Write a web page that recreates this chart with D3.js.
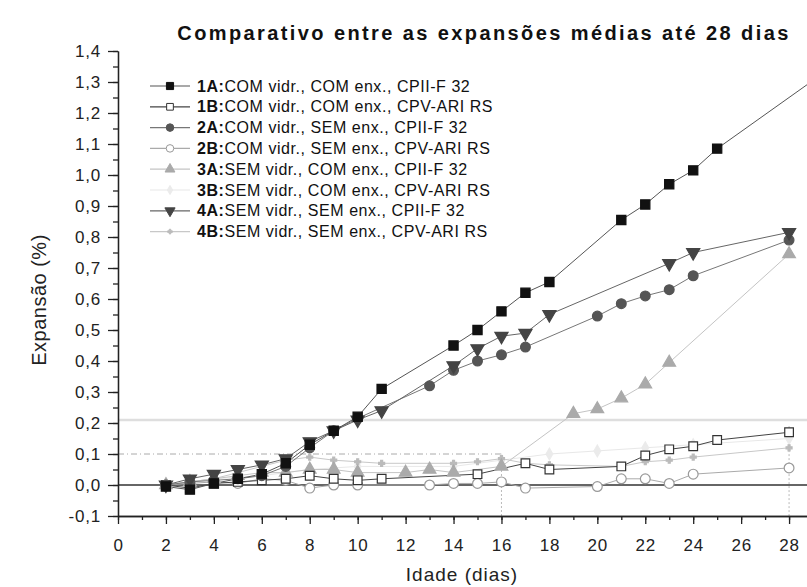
<!DOCTYPE html>
<html>
<head>
<meta charset="utf-8">
<script src="https://cdn.jsdelivr.net/npm/d3@7"></script>
<style>
    body { margin: 0; background: #fff; }
    svg { display: block; font-family: "Liberation Sans", Arial, sans-serif; }
</style>
</head>
<body>
<svg id="chart" width="807" height="587"></svg>
<script>
// series values, [day, expansion %]
const s1A = [[2, -0.005], [3, -0.015], [4, 0.005], [5, 0.02], [6, 0.035], [7, 0.07], [8, 0.13], [9, 0.175], [10, 0.22],
    [11, 0.31], [14, 0.45], [15, 0.5], [16, 0.56], [17, 0.62], [18, 0.655], [21, 0.855], [22, 0.905], [23, 0.97],
    [24, 1.015], [25, 1.085], [30, 1.36]];
const s1B = [[2, 0.0], [3, -0.01], [4, 0.005], [5, 0.01], [6, 0.015], [7, 0.02], [8, 0.03], [9, 0.02], [10, 0.015],
    [11, 0.02], [15, 0.035], [17, 0.07], [18, 0.05], [21, 0.06], [22, 0.095], [23, 0.115], [24, 0.125], [25, 0.145],
    [28, 0.17]];
const s2A = [[2, 0.0], [3, 0.01], [4, 0.015], [5, 0.02], [6, 0.03], [7, 0.06], [8, 0.12], [9, 0.175], [10, 0.215],
    [13, 0.32], [14, 0.37], [15, 0.4], [16, 0.42], [17, 0.445], [20, 0.545], [21, 0.585], [22, 0.61], [23, 0.63],
    [24, 0.675], [28, 0.79]];
const s2B = [[2, 0.0], [3, 0.005], [4, 0.01], [5, 0.005], [6, 0.02], [7, 0.015], [8, -0.01], [9, 0.0], [10, 0.0],
    [13, 0.0], [14, 0.005], [15, 0.005], [16, 0.01], [17, -0.01], [20, -0.005], [21, 0.02], [22, 0.02], [23, 0.005],
    [24, 0.035], [28, 0.055]];
const s3A = [[2, 0.0], [3, 0.01], [4, 0.02], [5, 0.03], [6, 0.04], [7, 0.04], [8, 0.05], [9, 0.05], [10, 0.04],
    [12, 0.04], [13, 0.05], [14, 0.04], [16, 0.06], [19, 0.23], [20, 0.245], [21, 0.28], [22, 0.325], [23, 0.395],
    [28, 0.745]];
const s3B = [[2, 0.0], [4, 0.02], [6, 0.03], [8, 0.05], [10, 0.06], [14, 0.06], [16, 0.08], [18, 0.1], [20, 0.11],
    [22, 0.12], [24, 0.13], [28, 0.15]];
const s4A = [[2, 0.0], [3, 0.02], [4, 0.035], [5, 0.05], [6, 0.065], [7, 0.085], [8, 0.14], [9, 0.175], [10, 0.21],
    [11, 0.24], [14, 0.385], [15, 0.44], [16, 0.48], [17, 0.49], [18, 0.55], [23, 0.715], [24, 0.75], [28, 0.815]];
const s4B = [[2, 0.0], [3, 0.01], [4, 0.02], [5, 0.04], [6, 0.06], [7, 0.08], [8, 0.09], [9, 0.08], [10, 0.075],
    [11, 0.07], [14, 0.07], [15, 0.075], [16, 0.085], [17, 0.07], [18, 0.065], [21, 0.06], [22, 0.075], [23, 0.08],
    [24, 0.09], [28, 0.12]];

const seriesCodes = ['1A:', '1B:', '2A:', '2B:', '3A:', '3B:', '4A:', '4B:'];
const seriesLabels = [
    'COM vidr., COM enx., CPII-F 32',
    'COM vidr., COM enx., CPV-ARI RS',
    'COM vidr., SEM enx., CPII-F 32',
    'COM vidr., SEM enx., CPV-ARI RS',
    'SEM vidr., COM enx., CPII-F 32',
    'SEM vidr., COM enx., CPV-ARI RS',
    'SEM vidr., SEM enx., CPII-F 32',
    'SEM vidr., SEM enx., CPV-ARI RS'
];
const seriesData = [s1A, s1B, s2A, s2B, s3A, s3B, s4A, s4B];

// limit lines: [expansion, last day]
const limitLow = [0.10, 16];
const limitHigh = [0.21, 30];
const limitDays = [[16, 0.10], [28, 0.19]];

const yTicks = d3.range(-0.1, 1.41, 0.1).map(v => +v.toFixed(2));
const yMinor = d3.range(-0.1, 1.41, 0.05).map(v => +v.toFixed(2));
const xTicks = d3.range(0, 29, 2);
const xMinor = d3.range(0, 31, 1);

const titleText = 'Comparativo entre as expansões médias até 28 dias';
const xTitle = 'Idade (dias)';
const yTitle = 'Expansão (%)';

// styles, same order as the series
const styles = [
    {symbol: d3.symbolSquare, size: 85, fill: '#111', stroke: '#111', line: '#555', rot: 0},
    {symbol: d3.symbolSquare, size: 75, fill: '#fff', stroke: '#333', line: '#444', rot: 0},
    {symbol: d3.symbolCircle, size: 75, fill: '#555', stroke: '#555', line: '#777', rot: 0},
    {symbol: d3.symbolCircle, size: 75, fill: '#fff', stroke: '#999', line: '#aaa', rot: 0},
    {symbol: d3.symbolTriangle, size: 70, fill: '#aaa', stroke: '#aaa', line: '#c4c4c4', rot: 0},
    {symbol: d3.symbolDiamond, size: 40, fill: '#ebebeb', stroke: '#ebebeb', line: '#e8e8e8', rot: 0},
    {symbol: d3.symbolTriangle, size: 75, fill: '#444', stroke: '#444', line: '#666', rot: 180},
    {symbol: d3.symbolCross, size: 20, fill: '#bbb', stroke: '#bbb', line: '#c8c8c8', rot: 0}
];

const svg = d3.select('#chart');
const commaFmt = d3.formatLocale({decimal: ',', thousands: '.', grouping: [3], currency: ['', ''], minus: '-'})
    .format('.1f');

const x = d3.scaleLinear()
    .domain([0, 30])
    .range([118, 837]);

const y = d3.scaleLinear()
    .domain([-0.1, 1.4])
    .range([516, 51]);

svg.append('clipPath')
    .attr('id', 'plotClip')
    .append('rect')
    .attr('x', 118)
    .attr('y', 40)
    .attr('width', 700)
    .attr('height', 480);

const plot = svg.append('g').attr('clip-path', 'url(#plotClip)');

// LIMIT LINES

plot.append('line')
    .attr('x1', x(0)).attr('x2', x(limitHigh[1]))
    .attr('y1', y(limitHigh[0])).attr('y2', y(limitHigh[0]))
    .attr('stroke', '#dedede')
    .attr('stroke-width', 2.5);

plot.append('line')
    .attr('x1', x(0)).attr('x2', x(limitLow[1]))
    .attr('y1', y(limitLow[0])).attr('y2', y(limitLow[0]))
    .attr('stroke', '#aaa')
    .attr('stroke-width', 1)
    .attr('stroke-dasharray', '6,3,1,3');

plot.selectAll('.limitDay')
    .data(limitDays)
    .enter()
    .append('line')
    .attr('class', 'limitDay')
    .attr('x1', d => x(d[0])).attr('x2', d => x(d[0]))
    .attr('y1', d => y(d[1])).attr('y2', y(-0.1))
    .attr('stroke', '#bbb')
    .attr('stroke-dasharray', '2,2');

// zero line
plot.append('line')
    .attr('x1', x(0)).attr('x2', x(30))
    .attr('y1', y(0)).attr('y2', y(0))
    .attr('stroke', '#333')
    .attr('stroke-width', 1.5);

// SERIES

const line = d3.line()
    .x(d => x(d[0]))
    .y(d => y(d[1]));

const drawOrder = [5, 7, 4, 3, 1, 2, 6, 0];

drawOrder.forEach(i => {
    plot.append('path')
        .datum(seriesData[i])
        .attr('fill', 'none')
        .attr('stroke', styles[i].line)
        .attr('stroke-width', 1)
        .attr('d', line);
});

drawOrder.forEach(i => {
    const st = styles[i];
    plot.selectAll(`.pt${i}`)
        .data(seriesData[i])
        .enter()
        .append('path')
        .attr('class', `pt${i}`)
        .attr('d', d3.symbol().type(st.symbol).size(st.size))
        .attr('transform', d => `translate(${x(d[0])},${y(d[1])}) rotate(${st.rot})`)
        .attr('fill', st.fill)
        .attr('stroke', st.stroke)
        .attr('stroke-width', 1.2);
});

// AXES

const yAxis = svg.append('g')
    .attr('transform', `translate(${x(0)},0)`)
    .call(d3.axisLeft(y).tickValues(yTicks).tickSize(10).tickSizeOuter(0).tickFormat(commaFmt));
svg.append('g')
    .attr('transform', `translate(${x(0)},0)`)
    .call(d3.axisLeft(y).tickValues(yMinor).tickSize(5).tickSizeOuter(0).tickFormat(''));

const xAxis = svg.append('g')
    .attr('transform', `translate(0,${y(-0.1)})`)
    .call(d3.axisBottom(x).tickValues(xTicks).tickSize(8).tickSizeOuter(0).tickFormat(d3.format('d')));
svg.append('g')
    .attr('transform', `translate(0,${y(-0.1)})`)
    .call(d3.axisBottom(x).tickValues(xMinor).tickSize(4).tickSizeOuter(0).tickFormat(''));

svg.selectAll('.domain, .tick line')
    .attr('stroke', '#222')
    .attr('stroke-width', 1.3);

yAxis.selectAll('text')
    .attr('x', -17)
    .attr('font-size', 17)
    .attr('letter-spacing', 0.8)
    .attr('fill', '#222');
xAxis.selectAll('text')
    .attr('y', 23)
    .attr('font-size', 17)
    .attr('letter-spacing', 0.8)
    .attr('fill', '#222');

// TEXT

svg.append('text')
    .attr('x', 484)
    .attr('y', 40)
    .attr('text-anchor', 'middle')
    .attr('font-size', 20)
    .attr('font-weight', 'bold')
    .attr('letter-spacing', 2.4)
    .attr('fill', '#111')
    .text(titleText);

svg.append('text')
    .attr('x', 462)
    .attr('y', 581)
    .attr('text-anchor', 'middle')
    .attr('font-size', 19)
    .attr('letter-spacing', 1)
    .attr('fill', '#222')
    .text(xTitle);

svg.append('text')
    .attr('transform', 'translate(46,300) rotate(-90)')
    .attr('text-anchor', 'middle')
    .attr('font-size', 20)
    .attr('letter-spacing', 0.5)
    .attr('fill', '#222')
    .text(yTitle);

// LEGEND

const legend = svg.append('g');
const rowY = i => 86 + i * 20.8;

seriesCodes.forEach((code, i) => {
    const st = styles[i];
    legend.append('line')
        .attr('x1', 150).attr('x2', 190)
        .attr('y1', rowY(i)).attr('y2', rowY(i))
        .attr('stroke', st.line)
        .attr('stroke-width', 1.2);
    legend.append('path')
        .attr('d', d3.symbol().type(st.symbol).size(st.size * 0.6))
        .attr('transform', `translate(170,${rowY(i)}) rotate(${st.rot})`)
        .attr('fill', st.fill)
        .attr('stroke', st.stroke);
    const t = legend.append('text')
        .attr('x', 197)
        .attr('y', rowY(i) + 5.5)
        .attr('font-size', 16)
        .attr('letter-spacing', 0.55)
        .attr('fill', '#111');
    t.append('tspan').attr('font-weight', 'bold').text(code);
    t.append('tspan').text(seriesLabels[i]);
});
</script>
</body>
</html>
